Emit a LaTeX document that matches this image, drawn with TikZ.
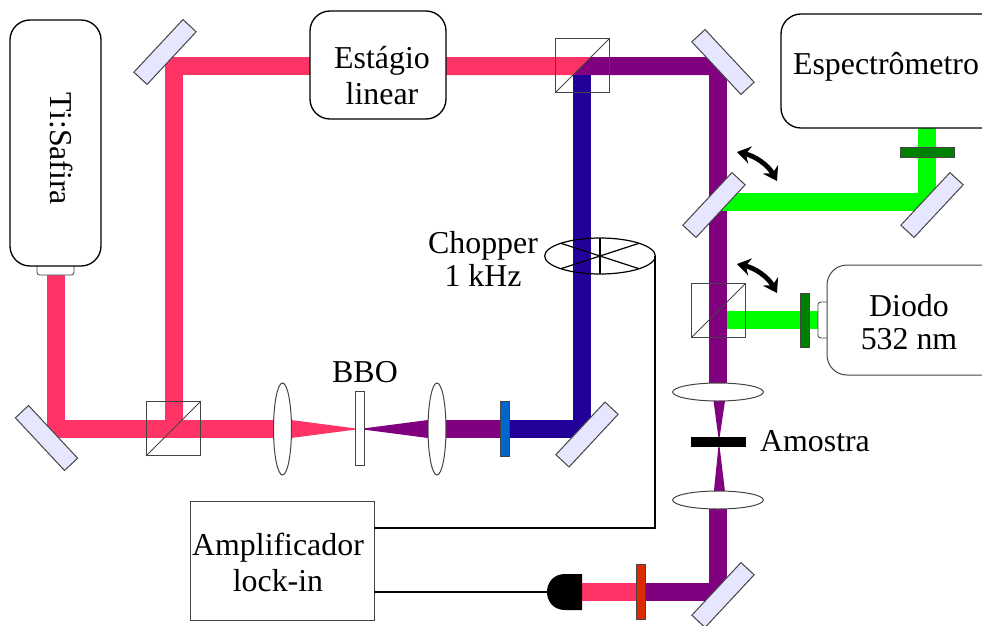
\documentclass[tikz,border=0pt]{standalone}
\usepackage{fontspec}
\setmainfont{Liberation Serif}
\usetikzlibrary{arrows.meta,shapes.geometric}
\definecolor{pinkbeam}{HTML}{FF3366}
\definecolor{purplebeam}{HTML}{800080}
\definecolor{bluebeam}{HTML}{220099}
\definecolor{greenbeam}{HTML}{00FF00}
\definecolor{mirrorfill}{HTML}{E6E6FF}
\definecolor{darkgreen}{HTML}{008000}
\definecolor{edgegrey}{HTML}{444444}
\definecolor{bluefilter}{HTML}{0066CC}
\definecolor{redfilter}{HTML}{DD2A00}
\tikzset{
  beam/.style={line width=13.5pt,line join=miter,line cap=butt},
  pinkb/.style={beam,draw=pinkbeam},
  purpleb/.style={beam,draw=purplebeam},
  blueb/.style={beam,draw=bluebeam},
  greenb/.style={beam,draw=greenbeam},
  mirrorbox/.style={draw=edgegrey,fill=mirrorfill,line width=.75pt,minimum width=54pt,minimum height=13.5pt,inner sep=0,outer sep=0},
  cubebox/.style={draw=edgegrey,line width=.75pt,minimum width=41pt,minimum height=41pt,inner sep=0,outer sep=0},
  lensv/.style={ellipse,draw=edgegrey,fill=white,line width=.75pt,minimum width=13.5pt,minimum height=69pt,inner sep=0,outer sep=0},
  lensh/.style={ellipse,draw=edgegrey,fill=white,line width=.75pt,minimum width=68pt,minimum height=13.5pt,inner sep=0,outer sep=0},
  filterv/.style={draw=edgegrey,line width=.6pt,minimum width=7pt,minimum height=41pt,inner sep=0,outer sep=0},
  filterh/.style={draw=edgegrey,line width=.6pt,minimum width=41pt,minimum height=7.5pt,inner sep=0,outer sep=0},
  roundbox/.style={draw=black,fill=white,line width=1pt,rounded corners=15pt,inner sep=0,outer sep=0,align=center},
  tabbox/.style={draw=edgegrey,fill=white,line width=.6pt,rounded corners=2pt},
  lbl/.style={inner sep=0,outer sep=0,align=center,font=\fontsize{23.9}{26}\selectfont},
  wire/.style={draw=black,line width=1.5pt,line join=miter},
  swing/.style={draw=black,line width=3.6pt,{Stealth[length=10pt,width=13pt]}-{Stealth[length=10pt,width=13pt]}}
}
\begin{document}
\begin{tikzpicture}[x=.75pt,y=-.75pt]
\useasboundingbox (0,0) rectangle (982,625);
\begin{scope}
\clip (0,0) rectangle (982,625);
% named points of the beams
\coordinate (laserout) at (55.5,275);
\coordinate (m1c) at (55.5,429);
\coordinate (bs1c) at (174,429);
\coordinate (m2c) at (174,66);
\coordinate (bs2c) at (582,66);
\coordinate (m3c) at (718,66);
\coordinate (m4c) at (582,429);
\coordinate (m5c) at (718,592);
\coordinate (fm1c) at (718,202);
\coordinate (m6c) at (927,202);
% beams
\draw[pinkb] (laserout) -- (m1c) -- (282,429);
\draw[pinkb] (bs1c) -- (m2c) -- (310,66);
\fill[pinkbeam] (446,57) -- (591,57) -- (573,75) -- (446,75) -- cycle;
\fill[purplebeam] (591,57) -- (718,57) -- (718,75) -- (573,75) -- cycle;
\draw[purpleb] (718,57) -- (m3c) -- (718,392);
\draw[blueb] (582,75) -- (m4c) -- (505,429);
\draw[purpleb] (437,429) -- (505,429);
\fill[pinkbeam] (282,420) -- (291,420) -- (356,428.5) -- (356,429.5) -- (291,438) -- (282,438) -- cycle;
\fill[purplebeam] (437,420) -- (428,420) -- (363,428.5) -- (363,429.5) -- (428,438) -- (437,438) -- cycle;
\fill[purplebeam] (713,392) -- (713.5,401) -- (718.5,438) -- (719.5,438) -- (725,401) -- (725,392) -- cycle;
\fill[purplebeam] (713,500) -- (718.5,446) -- (719.5,446) -- (726,500) -- cycle;
\draw[purpleb] (718,500) -- (m5c) -- (640,592);
\draw[pinkb] (640,592) -- (582,592);
\draw[greenb] (718,202) -- (m6c) -- (927,128);
\draw[greenb] (727,320) -- (818,320);
% instruments
\draw[tabbox] (37,258) rectangle (74,275);
\draw[tabbox] (818,302) rectangle (835,338);
\node[roundbox,minimum width=68.25pt,minimum height=184.5pt] (laser) at (55.5,143) {};
\node[lbl,rotate=-90] (laserl) at (61,149) {Ti:Safira};
\node[roundbox,minimum width=102pt,minimum height=81pt] (stage) at (378,65) {};
\node[lbl] (stagel) at (382,76) {Estágio\\[1pt]linear};
\node[roundbox,minimum width=180pt,minimum height=85.5pt] (spec) at (901,71) {};
\node[lbl] (specl) at (886,67) {Espectrômetro};
\node[roundbox,minimum width=150pt,minimum height=82.5pt,line width=.75pt,draw=edgegrey] (diode) at (927,320) {};
\node[lbl] (diodel) at (909,322) {Diodo\\[-1pt]532 nm};
\node[lbl] (bbol) at (365,372) {BBO};
\node[lbl] (chopl) at (483,259) {Chopper\\[-1pt]1 kHz};
\node[lbl] (amol) at (815,441) {Amostra};
\node[draw=edgegrey,line width=.75pt,inner sep=0,outer sep=0,minimum width=138pt,minimum height=89.25pt] (amp) at (282,560.5) {};
\node[lbl] (ampl) at (278,562.5) {Amplificador\\[1pt]lock-in};
% cubes
\node[cubebox] (bs1) at (173.5,428.5) {};
\draw[edgegrey,line width=.75pt] (bs1.south west) -- (bs1.north east);
\node[cubebox] (bs2) at (582.5,65.5) {};
\draw[edgegrey,line width=.75pt] (bs2.south west) -- (bs2.north east);
\node[cubebox] (bs3) at (718.5,310.5) {};
\draw[edgegrey,line width=.75pt] (bs3.south west) -- (bs3.north east);
% mirrors
\node[mirrorbox,rotate=-47] (m1) at (46.5,438) {};
\node[mirrorbox,rotate=47] (m2) at (165,52) {};
\node[mirrorbox,rotate=-47] (m3) at (723,62) {};
\node[mirrorbox,rotate=47] (m4) at (587,434.5) {};
\node[mirrorbox,rotate=47] (m5) at (723,595) {};
\node[mirrorbox,rotate=47] (fm1) at (714,205) {};
\node[mirrorbox,rotate=47] (m6) at (932,205) {};
% lenses
\node[lensv] (l1) at (282.5,429) {};
\node[lensv] (l2) at (437,429) {};
\node[lensh] (l3) at (718,392) {};
\node[lensh] (l4) at (718,500) {};
% thin elements
\node[draw=edgegrey,fill=white,line width=.6pt,minimum width=7pt,minimum height=55pt,inner sep=0,outer sep=0] (bbo) at (359.7,428.5) {};
\node[filterv,fill=bluefilter] (fblue) at (505,429) {};
\node[filterv,fill=redfilter] (fred) at (641,592) {};
\node[filterv,fill=darkgreen] (fgreen2) at (805,320.5) {};
\node[filterh,fill=darkgreen] (fgreen1) at (927.5,152) {};
\node[fill=black,minimum width=41pt,minimum height=7.5pt,inner sep=0,outer sep=0] (sample) at (718.5,442) {};
% chopper
\node[ellipse,draw=black,line width=.9pt,minimum width=83pt,minimum height=27pt,inner sep=0,outer sep=0] (chop) at (600,256) {};
\draw[black,line width=.9pt] (chop.north) -- (chop.south);
\draw[black,line width=.9pt] (chop.north west) -- (chop.south east);
\draw[black,line width=.9pt] (chop.south west) -- (chop.north east);
% detector
\coordinate (det) at (547,592);
\fill[black] (582,574) -- (565,574) .. controls (554,574) and (547,582) .. (det) .. controls (547,602) and (554,610) .. (565,610) -- (582,610) -- cycle;
% electrical lines
\coordinate (ampin) at (amp.east |- 0,528);
\coordinate (ampout) at (amp.east |- det);
\draw[wire] (chop.east) |- (ampin);
\draw[wire] (det) -- (ampout);
% swing arrows
\coordinate (s1a) at (737,152);
\coordinate (s1b) at (777,181);
\coordinate (s2a) at (737,264);
\coordinate (s2b) at (777,293);
\draw[swing] (s1a) .. controls (755,156) and (768,165) .. (s1b);
\draw[swing] (s2a) .. controls (755,268) and (768,277) .. (s2b);
\end{scope}
\end{tikzpicture}
\end{document}
